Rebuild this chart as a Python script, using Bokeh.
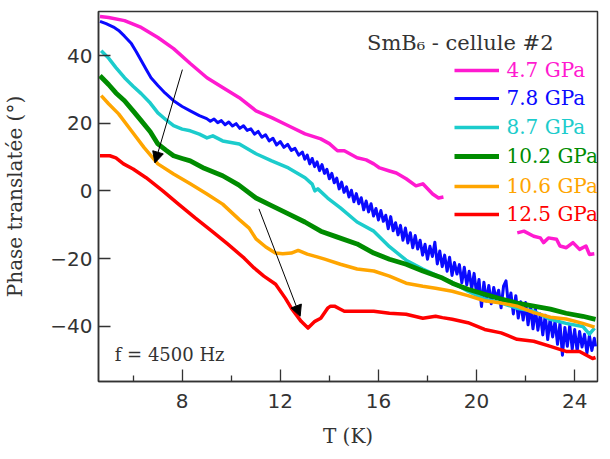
from bokeh.plotting import figure
from bokeh.models import Legend, LegendItem, Label, Arrow, NormalHead, Range1d, FixedTicker
from bokeh.embed import file_html
from bokeh.resources import INLINE

nan = float("nan")

# ---- data (T in K, phase in degrees) ----
T_47 = [4.65, 5.0, 5.65, 6.33, 7.01, 7.65, 8.33, 9.01, 9.65, 10.33, 11.01, 11.65, 12.33, 13.01, 13.65, 14.0,
        14.33, 14.61, 15.13, 15.5, 15.81, 16.05, 16.45, 16.73, 17.13, 17.53, 17.81, 18.21, 18.45, 18.65, nan,
        21.66, 21.93, 22.33, 22.6, 22.73, 22.93, 23.26, 23.4, 23.66, 23.93, 24.2, 24.46, 24.6, 24.8]
P_47 = [51.6, 51.3, 50.4, 48.4, 45.4, 42.1, 37.7, 33.5, 30.6, 27.6, 23.7, 21.7, 19.3, 16.9, 15.4, 14.0,
        11.9, 11.9, 9.8, 9.2, 8.0, 6.8, 5.9, 5.3, 3.6, 1.5, 2.1, -0.9, -2.1, -1.8, nan,
        -12.4, -11.9, -13.4, -13.9, -15.3, -13.9, -14.3, -16.3, -16.8, -15.3, -17.3, -16.3, -18.8, -18.6]

T_78 = [4.65, 4.9, 5.2, 5.41, 5.65, 5.93, 6.13, 6.33, 6.53, 6.73, 7.01, 7.3, 7.65, 8.0, 8.33, 8.7,
        9.0, 9.15, 9.3, 9.45, 9.6, 9.75, 9.9, 10.05, 10.2, 10.35, 10.5, 10.65, 10.8, 10.95, 11.1, 11.25, 11.4,
        11.55, 11.7, 11.85, 12.0, 12.15, 12.3, 12.45, 12.6, 12.75, 12.9, 13.0,
        13.1, 13.2, 13.3, 13.4, 13.5, 13.6, 13.7, 13.8, 13.9, 14.0, 14.1, 14.2, 14.3, 14.4, 14.5, 14.6, 14.7,
        14.8, 14.9, 15.0, 15.1, 15.2, 15.3, 15.4, 15.5, 15.6, 15.7, 15.8, 15.9, 16.0, 16.1, 16.2, 16.3, 16.4,
        16.5, 16.6, 16.7, 16.8, 16.9, 17.0, 17.1, 17.2, 17.3, 17.4, 17.5, 17.6, 17.7, 17.8, 17.9, 18.0, 18.1,
        18.2, 18.3, 18.4, 18.5, 18.6, 18.7, 18.8, 18.9, 19.0, 19.1, 19.2, 19.3, 19.4, 19.5, 19.6, 19.7, 19.8,
        19.9, 20.0, 20.1, 20.2, 20.3, 20.4, 20.5, 20.6, 20.7, 20.8, 20.9, 21.0, 21.1, 21.2, 21.3, 21.4, 21.5,
        21.6, 21.7, 21.8, 21.9, 22.0, 22.1, 22.2, 22.3, 22.4, 22.5, 22.6, 22.7, 22.8, 22.9, 23.0, 23.1, 23.2,
        23.3, 23.4, 23.5, 23.6, 23.7, 23.8, 23.9, 24.0, 24.1, 24.2, 24.3, 24.4, 24.5, 24.6, 24.7, 24.8, 24.85]
P_78 = [50.2, 49.5, 48.5, 47.5, 45.8, 43.6, 41.2, 38.6, 36.0, 33.5, 31.2, 29.0, 26.7, 25.0, 23.7, 22.3,
        21.4, 20.6, 21.3, 20.2, 20.8, 19.6, 20.4, 19.2, 19.9, 18.5, 19.3, 17.9, 18.4, 16.8, 17.6, 15.9, 16.6,
        14.8, 15.6, 13.6, 14.6, 12.9, 13.8, 12.0, 12.6, 10.6, 11.5, 9.4,
        10.6, 8.0, 9.6, 7.2, 8.6, 6.0, 7.8, 5.2, 6.4, 3.6, 5.2, 2.4, 3.8, 0.6, 2.6, -0.4, 1.2,
        -1.8, 0.2, -3.2, -0.8, -3.8, -2.0, -5.6, -3.0, -6.2, -3.8, -7.4, -5.2, -8.6, -5.8, -9.0, -7.2, -11.2,
        -7.6, -11.8, -9.4, -13.0, -10.2, -14.6, -11.0, -15.4, -12.4, -16.8, -13.2, -17.2, -14.6, -19.0, -15.8, -20.2, -16.4,
        -19.4, -15.2, -21.6, -17.8, -22.4, -19.0, -23.8, -19.6, -25.0, -21.2, -24.6, -21.8, -27.2, -22.6, -27.8, -23.8, -29.0,
        -24.4, -30.4, -26.2, -34.2, -27.0, -32.6, -28.0, -33.4, -28.6, -32.0, -29.4, -34.6, -28.2, -26.6, -33.8, -30.2, -36.4,
        -31.0, -37.6, -32.8, -38.2, -33.0, -39.6, -34.2, -40.8, -35.0, -41.2, -36.4, -42.6, -36.8, -44.0, -37.8, -43.2, -38.6,
        -45.4, -39.2, -48.6, -40.4, -46.0, -39.8, -46.8, -41.0, -47.4, -41.6, -46.2, -42.4, -48.0, -42.8, -47.2, -43.6, -46.0]

T_87 = [4.7, 5.0, 5.3, 5.65, 6.0, 6.33, 6.7, 7.01, 7.35, 7.65, 8.0, 8.33, 8.7, 9.01, 9.25, 9.65, 10.33, 11.01,
        11.65, 12.33, 13.01, 13.3, 13.41, 13.53, 13.93, 14.45, 15.13, 15.81, 16.45, 17.13, 17.81, 18.61, 19.0,
        19.65, 20.33, 21.01, 21.65, 22.33, 23.01, 23.65, 24.33, 24.6, 24.81]
P_87 = [41.5, 39.3, 36.5, 33.5, 31.0, 28.8, 26.0, 23.1, 21.0, 19.3, 18.3, 17.8, 16.8, 15.7, 16.3, 14.8, 13.9, 11.0,
        8.9, 6.8, 3.9, 2.0, 0.0, 0.6, -2.1, -5.0, -9.2, -11.9, -16.5, -20.5, -23.1, -25.8, -27.0,
        -29.7, -32.0, -33.2, -34.7, -35.6, -38.0, -39.2, -40.1, -42.4, -40.6]

T_102 = [4.65, 5.0, 5.3, 5.65, 6.0, 6.33, 6.7, 7.01, 7.35, 7.65, 8.0, 8.33, 8.9, 9.65, 10.3, 11.01, 11.6, 12.33,
         13.0, 13.65, 14.3, 15.13, 15.81, 16.45, 17.13, 17.81, 18.61, 19.01, 19.65, 20.33, 21.01, 21.65, 22.33,
         23.01, 23.65, 24.33, 24.85]
P_102 = [34.1, 31.5, 29.0, 26.7, 23.7, 20.8, 17.5, 13.9, 12.0, 10.4, 9.6, 8.9, 6.7, 4.5, 1.8, -2.1, -4.2, -6.8,
         -9.2, -11.9, -13.6, -15.7, -18.4, -20.2, -21.7, -23.7, -25.8, -27.3, -29.1, -30.6, -32.0, -33.2, -34.1,
         -35.0, -36.2, -37.1, -38.0]

T_106 = [4.7, 5.0, 5.41, 5.93, 6.45, 7.01, 7.65, 8.33, 9.01, 9.65, 10.33, 10.73, 11.01, 11.41, 11.8, 12.1, 12.45,
         12.73, 13.1, 13.5, 13.81, 14.45, 15.13, 15.81, 16.45, 17.13, 17.81, 18.33, 19.01, 19.65, 20.33, 21.01,
         21.65, 22.33, 23.01, 23.65, 24.33, 24.81]
P_106 = [28.2, 25.8, 22.8, 17.8, 12.8, 8.0, 5.0, 2.1, -0.9, -3.9, -8.5, -11.0, -14.2, -16.6, -18.4, -18.6, -18.4,
         -17.6, -18.7, -19.5, -20.2, -21.7, -23.1, -23.7, -25.2, -27.3, -28.2, -28.8, -29.7, -31.0, -32.5, -33.2,
         -34.1, -36.0, -37.4, -37.9, -39.2, -40.3]

T_125 = [4.65, 5.05, 5.3, 5.61, 6.0, 6.53, 7.21, 7.85, 8.53, 9.21, 9.85, 10.53, 10.93, 11.33, 11.81, 12.21, 12.45,
         12.85, 13.13, 13.41, 13.65, 13.93, 14.05, 14.21, 14.45, 14.61, 15.13, 15.81, 16.45, 17.13, 17.81, 18.33,
         18.61, 19.01, 19.65, 20.33, 21.0, 21.65, 22.33, 23.01, 23.65, 24.2, 24.73, 24.85]
P_125 = [10.4, 10.4, 9.8, 8.0, 6.5, 3.9, 0.0, -3.9, -8.0, -11.9, -15.7, -19.9, -22.8, -25.2, -27.6, -31.8, -34.7,
         -38.6, -40.6, -38.6, -37.7, -34.7, -34.1, -34.1, -35.0, -35.6, -35.6, -35.6, -36.2, -36.5, -37.7, -37.1,
         -37.5, -38.0, -39.0, -41.0, -42.0, -43.9, -44.5, -46.0, -47.5, -47.5, -49.6, -49.3]

labels = ["4.7 GPa", "7.8 GPa", "8.7 GPa", "10.2 GPa", "10.6 GPa", "12.5 GPa"]
temps = [T_47, T_78, T_87, T_102, T_106, T_125]
phases = [P_47, P_78, P_87, P_102, P_106, P_125]
colors = ["#ff1ad0", "#0a0aff", "#1ccccc", "#008c00", "#ffa500", "#ff0000"]
widths = [3.5, 3.0, 3.5, 4.8, 3.5, 3.5]

x_ticks = [8, 12, 16, 20, 24]
x_minor = [6, 10, 14, 18, 22]
y_ticks = [-40, -20, 0, 20, 40]

# arrows: (x_start, y_start, x_end, y_end) in data units
arrows = [(8.01, 35.9, 6.89, 8.3), (11.13, -5.3, 12.81, -37.1)]

SERIF = "DejaVu Serif"
SANS = "DejaVu Sans"
INK = "#333333"

p = figure(width=600, height=451, output_backend="svg", toolbar_location=None,
           x_range=Range1d(4.59, 24.93), y_range=Range1d(-56.4, 53.1),
           min_border_left=88, min_border_right=3, min_border_top=11, min_border_bottom=70)
p.grid.visible = False
p.outline_line_color = INK
p.outline_line_width = 1.5
p.background_fill_color = "white"

for ax in (p.xaxis[0], p.yaxis[0]):
    ax.axis_line_color = INK
    ax.axis_line_width = 1.5
    ax.major_tick_line_color = INK
    ax.minor_tick_line_color = INK
    ax.major_tick_line_width = 1.3
    ax.minor_tick_line_width = 1.3
    ax.major_tick_in = 12
    ax.major_tick_out = 0
    ax.minor_tick_in = 6
    ax.minor_tick_out = 0
    ax.major_label_text_font = SANS
    ax.major_label_text_font_size = "20px"
    ax.major_label_text_color = INK
    ax.axis_label_text_font = SERIF
    ax.axis_label_text_font_size = "20px"
    ax.axis_label_text_font_style = "normal"
    ax.axis_label_text_color = INK

p.xaxis.ticker = FixedTicker(ticks=x_ticks, minor_ticks=x_minor)
p.yaxis.ticker = FixedTicker(ticks=y_ticks, minor_ticks=[])
p.xaxis.major_label_standoff = 12
p.yaxis.major_label_standoff = 6

p.yaxis.axis_label = "Phase translatée (°)"
p.yaxis.axis_label_standoff = 20
p.xaxis.axis_label = "T (K)"
p.xaxis.axis_label_standoff = 13

centers = [70.7, 99.3, 128.3, 157.3, 186.7, 215.0]
for lab, T, P, col, lw, c in zip(labels, temps, phases, colors, widths, centers):
    r = p.line(T, P, line_color=col, line_width=lw, line_join="round")
    leg = Legend(items=[LegendItem(label=lab, renderers=[r])],
                 location=(355.5, 380 - (c + 10)),
                 padding=0, margin=0, spacing=0, glyph_width=45, glyph_height=20,
                 label_height=20, label_standoff=8,
                 label_text_font=SERIF, label_text_font_size="20px", label_text_color=col,
                 border_line_alpha=0, background_fill_alpha=0)
    p.add_layout(leg)

for xs, ys, xe, ye in arrows:
    p.add_layout(Arrow(end=NormalHead(size=11, fill_color="black", line_color="black", line_width=1),
                       x_start=xs, y_start=ys, x_end=xe, y_end=ye, line_color="black", line_width=1))

p.add_layout(Label(x=268.5, y=339, x_units="screen", y_units="screen", text="SmB\u2086 - cellule #2",
                   text_font=SERIF, text_font_size="21px", text_color=INK, text_baseline="alphabetic"))
p.add_layout(Label(x=5.25, y=-48.4, text="f = 4500 Hz", text_font=SERIF, text_font_size="18px",
                   text_color=INK, text_baseline="middle"))

open("out.html", "w").write(file_html(p, INLINE))
